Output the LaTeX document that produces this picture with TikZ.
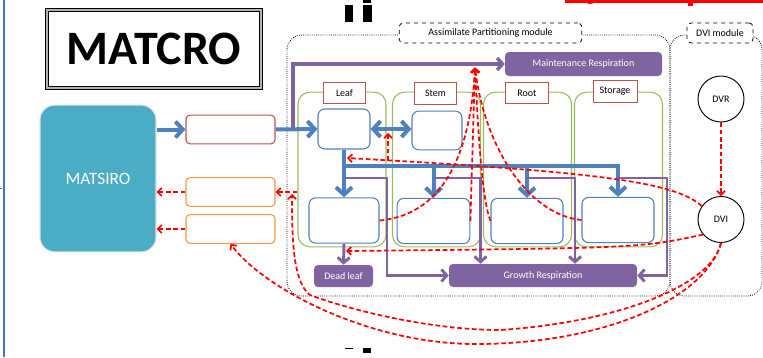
\documentclass[tikz,border=0pt]{standalone}
\usepackage{fontspec}
\setmainfont{Carlito}
\usepackage{tikz}
\usetikzlibrary{arrows.meta}

\definecolor{mblue}{RGB}{79,129,189}
\definecolor{mpurple}{RGB}{128,100,162}
\definecolor{mteal}{RGB}{75,172,198}
\definecolor{mgreen}{RGB}{155,187,89}
\definecolor{mred}{RGB}{192,80,77}
\definecolor{morange}{RGB}{247,150,70}
\definecolor{mside}{RGB}{68,114,196}

\begin{document}
\begin{tikzpicture}[x=0.75pt, y=-0.75pt,
    txt/.style = {font=\fontsize{7.5}{9}\selectfont},
    organ/.style = {draw=mgreen, line width=0.8pt, rounded corners=9pt, minimum width=66pt, minimum height=116pt},
    tab/.style = {txt, draw=mred, fill=white, line width=0.7pt, minimum width=32pt, minimum height=16pt, inner sep=0pt},
    pool/.style = {draw=mblue, fill=white, line width=0.8pt, rounded corners=5pt},
    iobox/.style = {fill=white, line width=0.8pt, rounded corners=3pt, minimum width=66.75pt, minimum height=21.5pt},
    sink/.style = {txt, fill=mpurple, text=white, rounded corners=3pt, inner sep=0pt},
    stage/.style = {txt, draw, circle, fill=white, line width=0.7pt, minimum size=34.5pt, inner sep=0pt},
    modline/.style = {densely dotted, line width=0.6pt, rounded corners=11pt},
    modlabel/.style = {txt, draw, dashed, fill=white, rounded corners=3pt, line width=0.6pt, minimum height=15pt, inner sep=0pt},
    flow/.style = {mblue, line width=3pt, >={Straight Barb[length=5.5pt,width=12pt]}, ->},
    resp/.style = {mpurple, line width=2.2pt, >={Straight Barb[length=4pt,width=9pt]}, ->},
    ctrl/.style = {red, line width=1.3pt, dash pattern=on 3.5pt off 2pt, >={Straight Barb[length=3pt,width=6pt]}, ->}
]
    \useasboundingbox (0,0) rectangle (763,357);

    % slide edges
    \draw[mside, line width=1.5pt] (4,0) -- (4,357);
    \draw[mside, line width=0.6pt] (0,188) -- (2,188);
    \fill (345,5) rectangle (353,22);
    \fill (363,5) rectangle (372,22);
    \fill (363,0) rectangle (371,2.5);
    \fill[red] (565,0) rectangle (763,2.5);
    \fill[red] (590,-2) circle (6);
    \fill[red] (688,0) rectangle (693,6);
    \draw[line width=0.6pt] (345,348) -- (353,348);
    \fill (363,348) rectangle (371,353);

    \node[draw, double=black!30, double distance=1.4pt, line width=0.7pt, minimum width=161pt, minimum height=59pt, font=\bfseries\fontsize{36}{40}\selectfont] (title) at (154,49) {MATCRO};

    \node[fill=mteal, draw=black!12, line width=0.8pt, rounded corners=11pt, minimum width=87pt, minimum height=110pt, text=white, font=\fontsize{13}{15}\selectfont] (matsiro) at (98,178.5) {MATSIRO};
    \node[iobox, draw=mred] (inbox) at (230.5,129.5) {};
    \node[iobox, draw=morange] (outA) at (230.5,192) {};
    \node[iobox, draw=morange] (outB) at (230.5,229) {};

    % modules
    \draw[modline] (287,35) rectangle (670,296);
    \draw[modline] (670,35) rectangle (762,296);
    \node[modlabel, minimum width=137pt] (apmlab) at (490.5,33) {Assimilate Partitioning module};
    \node[modlabel, minimum width=49.5pt] (dvilab) at (720,33) {DVI module};

    % organs
    \node[organ] (leafPan) at (342,169.5) {};
    \node[organ] (stemPan) at (436.5,169.5) {};
    \node[organ] (rootPan) at (527.5,169.5) {};
    \node[organ] (storPan) at (618.5,169.5) {};
    \node[tab] (leafTab) at (344.5,93) {Leaf};
    \node[tab] (stemTab) at (435.5,93.5) {Stem};
    \node[tab] (rootTab) at (527,93) {Root};
    \node[tab, minimum width=33pt] (storTab) at (615,91.5) {Storage};

    \node[pool, minimum width=39pt, minimum height=30pt] (leafTop) at (344,129) {};
    \node[pool, minimum width=37.5pt, minimum height=29pt] (stemTop) at (437,130.5) {};
    \node[pool, minimum width=52.5pt, minimum height=34pt] (leafBot) at (344,220.5) {};
    \node[pool, minimum width=54.5pt, minimum height=34pt] (stemBot) at (433.5,221) {};
    \node[pool, minimum width=54pt, minimum height=34pt] (rootBot) at (527,221) {};
    \node[pool, minimum width=54pt, minimum height=34pt] (storBot) at (618,220) {};

    \node[sink, minimum width=117.75pt, minimum height=18pt] (maint) at (583.5,64) {Maintenance Respiration};
    \node[sink, minimum width=141pt, minimum height=17.25pt] (growth) at (543,275.5) {Growth Respiration};
    \node[sink, minimum width=44.25pt, minimum height=16.5pt] (dead) at (343.5,276) {Dead leaf};

    \node[stage] (dvr) at (721,99) {DVR};
    \node[stage] (dvi) at (721,219.5) {DVI};

    \coordinate (pj) at (293,129.5);
    \coordinate (bh) at (344,166);
    \coordinate (pl) at (344,178);
    \coordinate (mrIn) at (475,67.5);
    \coordinate (lfIn) at (347,158);
    \coordinate (lsIn) at (388,133);
    \coordinate (brA) at (388,160.5);
    \coordinate (laiIn) at (292,194);
    \coordinate (dlIn) at (346,251);

    % assimilate flow
    \draw[flow] (matsiro.east |- inbox.west) -- (inbox.west);
    \draw[flow] (inbox.east) -- (leafTop.west);
    \draw[flow, <->] (leafTop.east) -- (leafTop.east -| stemTop.west);
    \draw[flow] (leafTop.south) -- (leafBot.north);
    \draw[flow] (bh) -| (storBot.north);
    \foreach \p in {stemBot, rootBot}
        \draw[flow] (bh -| \p.north) -- (\p.north);

    % respiration
    \draw[resp, line width=2.6pt] (pj) |- (maint.west);
    \draw[resp] (pl) -- ++(43,0) |- (growth.west);
    \draw[resp] (stemBot.north |- pl) -| ([xshift=35.25pt]stemBot.north |- growth.north);
    \draw[resp] (rootBot.north |- pl) -| ([xshift=36pt]rootBot.north |- growth.north);
    \draw[resp] (storBot.north |- pl) -- ++(49,0) |- (growth.east);
    \draw[resp] (leafBot.south) -- (dead.north);

    % development control
    \draw[ctrl] (dvr.south) -- (dvi.north);
    \draw[ctrl] (dvi.145) .. controls (675,182) and (600,172) .. (lfIn);
    \draw[ctrl] (brA) -- (lsIn);
    \draw[ctrl] (dvi.220) .. controls (640,248) .. (dlIn);
    \draw[ctrl] (leafBot.east) .. controls (440,215) and (470,160) .. (mrIn);
    \draw[ctrl] (stemBot.east) -- (mrIn);
    \draw[ctrl] (rootBot.west) .. controls (482,200) and (478,130) .. (mrIn);
    \draw[ctrl] (storBot.west) .. controls (530,215) and (485,150) .. (mrIn);
    \draw[ctrl] (outA.east -| leafPan.west) -- (outA.east);
    \draw[ctrl] (outA.west) -- (outA.west -| matsiro.east);
    \draw[ctrl] (outB.west) -- (outB.west -| matsiro.east);
    \draw[ctrl] (dvi.south) .. controls (712,285) and (620,322) .. (500,330) .. controls (430,330) and (350,310) .. (310,295) .. controls (293,282) and (292,240) .. (laiIn);
    \draw[ctrl] (dvi.south) .. controls (705,300) and (600,345) .. (472,344) .. controls (370,343) and (265,290) .. (outB.south);
\end{tikzpicture}
\end{document}
